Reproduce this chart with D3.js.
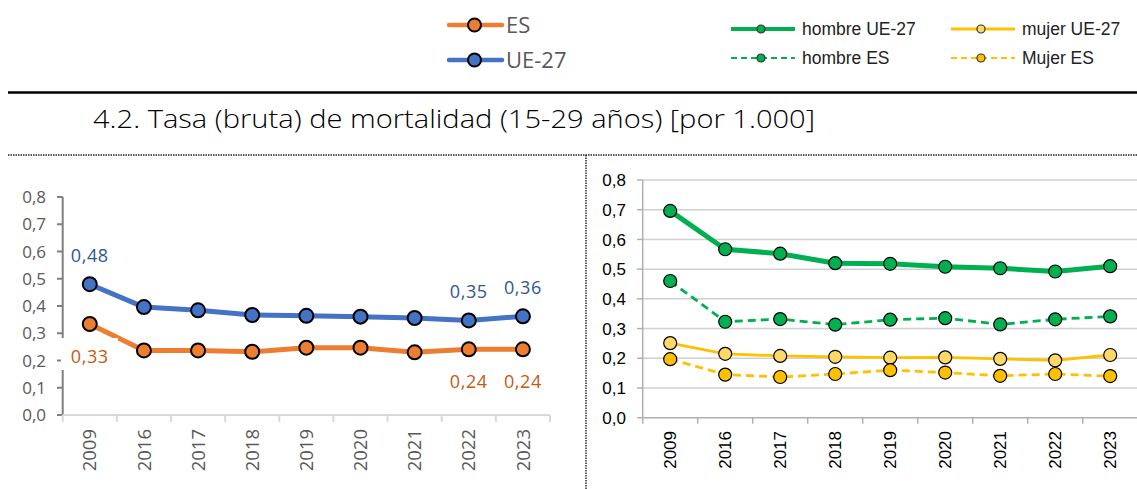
<!DOCTYPE html>
<html>
<head>
<meta charset="utf-8">
<script src="https://cdn.jsdelivr.net/npm/d3@7"></script>
<style>
  body { margin: 0; background: #fff; }
  svg { display: block; }
</style>
</head>
<body>
<div id="chart"></div>
<script>
// data
var years = ['2009', '2016', '2017', '2018', '2019', '2020', '2021', '2022', '2023'];
var esTotal = [0.334, 0.237, 0.237, 0.232, 0.247, 0.247, 0.230, 0.241, 0.241];
var ueTotal = [0.480, 0.396, 0.384, 0.367, 0.364, 0.361, 0.356, 0.347, 0.362];
var hombreUE = [0.696, 0.567, 0.552, 0.520, 0.518, 0.508, 0.503, 0.492, 0.510];
var hombreES = [0.460, 0.323, 0.332, 0.313, 0.330, 0.335, 0.314, 0.331, 0.341];
var mujerUE = [0.251, 0.215, 0.208, 0.205, 0.202, 0.203, 0.198, 0.193, 0.211];
var mujerES = [0.197, 0.145, 0.137, 0.147, 0.160, 0.152, 0.141, 0.147, 0.140];
var yTicks = [0, 0.1, 0.2, 0.3, 0.4, 0.5, 0.6, 0.7, 0.8];
var labelYears = ['2009', '2022', '2023'];
var title = '4.2. Tasa (bruta) de mortalidad (15-29 años) [por 1.000]';

var W = 1137, H = 489;
var loc = d3.formatLocale({decimal: ',', thousands: '.', grouping: [3], currency: ['', '']});
var fmt1 = loc.format('.1f');
var fmt2 = loc.format('.2f');

var svg = d3.select('#chart').append('svg')
    .attr('width', W)
    .attr('height', H);

// header lines and title
svg.append('line')
    .attr('x1', 8).attr('x2', W).attr('y1', 92.5).attr('y2', 92.5)
    .attr('stroke', '#000').attr('stroke-width', 2.6);
svg.append('text')
    .attr('x', 93).attr('y', 128)
    .attr('textLength', 722).attr('lengthAdjust', 'spacingAndGlyphs')
    .style('font', '300 25px "Open Sans", sans-serif')
    .attr('fill', '#000')
    .text(title);
svg.append('line')
    .attr('x1', 8).attr('x2', W).attr('y1', 155).attr('y2', 155)
    .attr('stroke', '#222').attr('stroke-width', 1.6).attr('stroke-dasharray', '1.5,1');
svg.append('line')
    .attr('x1', 586).attr('x2', 586).attr('y1', 155).attr('y2', H)
    .attr('stroke', '#222').attr('stroke-width', 1.4).attr('stroke-dasharray', '1.5,1');

// ---------- left chart: ES vs UE-27 ----------
var xL = d3.scaleBand().domain(years).range([62.7, 550]);
var yL = d3.scaleLinear().domain([0, 0.8]).range([415, 197]);
var L = svg.append('g');

// y axis
L.append('line')
    .attr('x1', 62.7).attr('x2', 62.7).attr('y1', yL(0.8)).attr('y2', yL(0) + 1)
    .attr('stroke', '#7f7f7f').attr('stroke-width', 2);
L.selectAll('.ytL').data(yTicks).enter().append('line')
    .attr('x1', 57).attr('x2', 62.7)
    .attr('y1', d => yL(d)).attr('y2', d => yL(d))
    .attr('stroke', '#7f7f7f').attr('stroke-width', 2);
L.selectAll('.ylL').data(yTicks).enter().append('text')
    .attr('x', 46).attr('y', d => yL(d)).attr('dy', '0.36em')
    .attr('text-anchor', 'end')
    .style('font', '17px "Open Sans", sans-serif')
    .attr('fill', '#595959')
    .text(d => fmt1(d));

// x axis
L.append('line')
    .attr('x1', xL.range()[0]).attr('x2', xL.range()[1]).attr('y1', yL(0)).attr('y2', yL(0))
    .attr('stroke', '#d9d9d9').attr('stroke-width', 2);
L.selectAll('.xtL').data(years.map(d => xL(d)).concat([xL.range()[1]])).enter().append('line')
    .attr('x1', d => d).attr('x2', d => d).attr('y1', yL(0)).attr('y2', yL(0) + 7)
    .attr('stroke', '#d9d9d9').attr('stroke-width', 2);
L.selectAll('.xlL').data(years).enter().append('text')
    .attr('transform', d => 'translate(' + (xL(d) + xL.bandwidth() / 2) + ',429) rotate(-90)')
    .attr('dy', '0.36em')
    .attr('text-anchor', 'end')
    .style('font', '18.5px "Open Sans", sans-serif')
    .attr('fill', '#595959')
    .text(d => d);

var leftSeries = [
    {name: 'ES', values: esTotal, color: '#ED7D31', label: '#C55A11', dy: 39},
    {name: 'UE-27', values: ueTotal, color: '#4472C4', label: '#2F5597', dy: -22}
];
var lineL = d3.line()
    .x((d, i) => xL(years[i]) + xL.bandwidth() / 2)
    .y(d => yL(d));

leftSeries.forEach(function(s) {
    L.append('path')
        .datum(s.values)
        .attr('fill', 'none')
        .attr('stroke', s.color)
        .attr('stroke-width', 5)
        .attr('stroke-linejoin', 'round')
        .attr('d', lineL);
});
leftSeries.forEach(function(s) {
    L.selectAll('.m' + s.name).data(s.values).enter().append('circle')
        .attr('cx', (d, i) => xL(years[i]) + xL.bandwidth() / 2)
        .attr('cy', d => yL(d))
        .attr('r', 7)
        .attr('fill', s.color)
        .attr('stroke', '#000')
        .attr('stroke-width', 2);
});
// label box of the first ES label hides a bit of axis and line
L.append('rect')
    .attr('x', 61).attr('y', 338).attr('width', 57).attr('height', 32)
    .attr('fill', '#fff');
leftSeries.forEach(function(s) {
    L.selectAll('.l' + s.name).data(labelYears).enter().append('text')
        .attr('x', d => xL(d) + xL.bandwidth() / 2)
        .attr('y', d => yL(s.values[years.indexOf(d)]) + s.dy)
        .attr('text-anchor', 'middle')
        .style('font', '400 18px "Open Sans", sans-serif')
        .style('letter-spacing', '0.6px')
        .attr('fill', s.label)
        .text(d => fmt2(s.values[years.indexOf(d)]));
});

// left legend
leftSeries.forEach(function(s, i) {
    var ly = i === 0 ? 25 : 60;
    svg.append('line')
        .attr('x1', 449).attr('x2', 502).attr('y1', ly).attr('y2', ly)
        .attr('stroke', s.color).attr('stroke-width', 4.5).attr('stroke-linecap', 'round');
    svg.append('circle')
        .attr('cx', 474.5).attr('cy', ly).attr('r', 6.5)
        .attr('fill', s.color).attr('stroke', '#000').attr('stroke-width', 2);
    svg.append('text')
        .attr('x', 506).attr('y', ly + 8)
        .style('font', '22px "Open Sans", sans-serif')
        .attr('fill', '#595959')
        .text(s.name);
});

// ---------- right chart: by sex ----------
var xR = d3.scaleBand().domain(years).range([642.7, 1137.7]);
var yR = d3.scaleLinear().domain([0, 0.8]).range([417.7, 180]);
var R = svg.append('g');

R.selectAll('.grid').data(yTicks.slice(1)).enter().append('line')
    .attr('x1', 642.7).attr('x2', W)
    .attr('y1', d => yR(d)).attr('y2', d => yR(d))
    .attr('stroke', '#d0d0d0').attr('stroke-width', 1.5);
R.append('line')
    .attr('x1', 642.7).attr('x2', 642.7).attr('y1', yR(0.8)).attr('y2', yR(0))
    .attr('stroke', '#b0b0b0').attr('stroke-width', 1.5);
R.selectAll('.ytR').data(yTicks).enter().append('line')
    .attr('x1', 637).attr('x2', 642.7)
    .attr('y1', d => yR(d)).attr('y2', d => yR(d))
    .attr('stroke', '#b0b0b0').attr('stroke-width', 1.5);
R.selectAll('.ylR').data(yTicks).enter().append('text')
    .attr('x', 626).attr('y', d => yR(d)).attr('dy', '0.36em')
    .attr('text-anchor', 'end')
    .style('font', '17px "Liberation Sans", Arial, sans-serif')
    .attr('fill', '#000')
    .text(d => fmt1(d));
R.append('line')
    .attr('x1', 642.7).attr('x2', W).attr('y1', yR(0)).attr('y2', yR(0))
    .attr('stroke', '#b0b0b0').attr('stroke-width', 1.5);
R.selectAll('.xtR').data(years.map(d => xR(d))).enter().append('line')
    .attr('x1', d => d).attr('x2', d => d).attr('y1', yR(0)).attr('y2', yR(0) + 6)
    .attr('stroke', '#b0b0b0').attr('stroke-width', 1.5);
R.selectAll('.xlR').data(years).enter().append('text')
    .attr('transform', d => 'translate(' + (xR(d) + xR.bandwidth() / 2) + ',431) rotate(-90)')
    .attr('dy', '0.36em')
    .attr('text-anchor', 'end')
    .style('font', '17px "Liberation Sans", Arial, sans-serif')
    .attr('fill', '#000')
    .text(d => d);

var rightSeries = [
    {name: 'hombre UE-27', values: hombreUE, color: '#00B050', fill: '#00B050', width: 5, dash: null},
    {name: 'hombre ES', values: hombreES, color: '#00B050', fill: '#00B050', width: 2.8, dash: '8,5'},
    {name: 'mujer UE-27', values: mujerUE, color: '#FFC000', fill: '#FFD966', width: 2.8, dash: null},
    {name: 'Mujer ES', values: mujerES, color: '#FFC000', fill: '#FFC000', width: 2.8, dash: '8,5'}
];
var lineR = d3.line()
    .x((d, i) => xR(years[i]) + xR.bandwidth() / 2)
    .y(d => yR(d));

rightSeries.forEach(function(s) {
    R.append('path')
        .datum(s.values)
        .attr('fill', 'none')
        .attr('stroke', s.color)
        .attr('stroke-width', s.width)
        .attr('stroke-dasharray', s.dash)
        .attr('stroke-linejoin', 'round')
        .attr('d', lineR);
});
rightSeries.forEach(function(s, k) {
    R.selectAll('.mr' + k).data(s.values).enter().append('circle')
        .attr('cx', (d, i) => xR(years[i]) + xR.bandwidth() / 2)
        .attr('cy', d => yR(d))
        .attr('r', 6.5)
        .attr('fill', s.fill)
        .attr('stroke', '#000')
        .attr('stroke-width', 1.2);
});

// right legend
rightSeries.forEach(function(s, i) {
    var lx = i < 2 ? 731 : 951;
    var ly = i % 2 === 0 ? 29 : 58;
    svg.append('line')
        .attr('x1', lx).attr('x2', lx + 64).attr('y1', ly).attr('y2', ly)
        .attr('stroke', s.color)
        .attr('stroke-width', s.dash ? 2.2 : (i === 0 ? 4 : 3))
        .attr('stroke-dasharray', s.dash ? '6,4' : null);
    svg.append('circle')
        .attr('cx', lx + 30).attr('cy', ly).attr('r', 4)
        .attr('fill', s.fill).attr('stroke', '#333').attr('stroke-width', 1.2);
    svg.append('text')
        .attr('x', lx + 71).attr('y', ly + 6)
        .style('font', '17.5px "Liberation Sans", Arial, sans-serif')
        .attr('fill', '#222')
        .text(s.name);
});
</script>
</body>
</html>
